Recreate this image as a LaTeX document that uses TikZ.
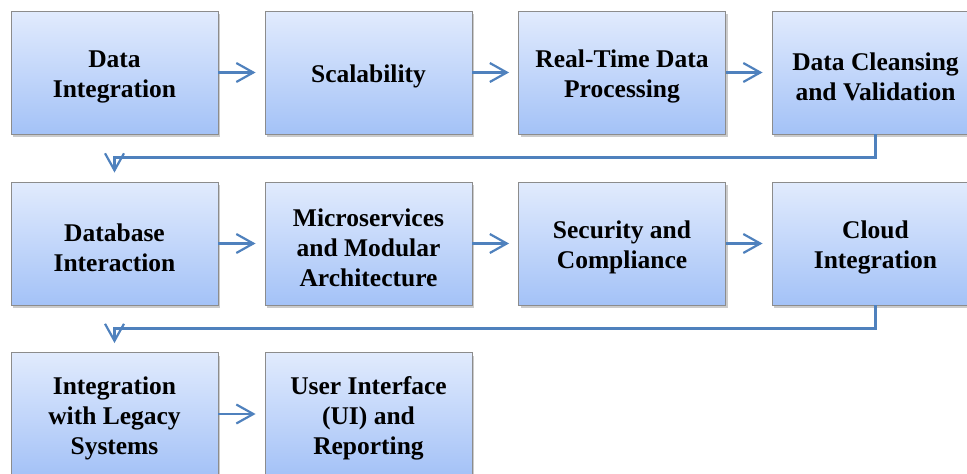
\documentclass[tikz,border=0pt]{standalone}
\usepackage{fontspec}
\setmainfont{Liberation Serif}
\usetikzlibrary{arrows.meta,shadows}
\definecolor{boxtop}{HTML}{E1EBFD}
\definecolor{boxbot}{HTML}{A4C2F7}
\definecolor{boxline}{HTML}{8C8C8C}
\definecolor{arrblue}{HTML}{4F81BD}
\tikzset{
  flowbox/.style={draw=boxline, line width=0.9pt, top color=boxtop, bottom color=boxbot,
    minimum width=207pt, minimum height=123pt, inner sep=0pt,
    drop shadow={shadow xshift=2pt, shadow yshift=-3pt, fill=black!45, opacity=0.45}},
  boxtext/.style={align=center, inner sep=0pt, yshift=-4pt,
    font=\bfseries\fontsize{25.5}{30}\selectfont},
  arr/.style={draw=arrblue, line width=2.3pt,
    -{Straight Barb[length=17pt, width=19pt, line width=2.2pt]}}
}
\begin{document}
\begin{tikzpicture}[x=1pt, y=-1pt]
\useasboundingbox (0,0) rectangle (967,474);
\clip (0,0) rectangle (967,474);
\node[flowbox, label={[boxtext]center:{Data\\Integration}}] (b1) at (114.5,72.5) {};
\node[flowbox, label={[boxtext]center:{Scalability}}] (b2) at (368.5,72.5) {};
\node[flowbox, label={[boxtext]center:{Real-Time Data\\Processing}}] (b3) at (622,72.5) {};
\node[flowbox, label={[boxtext]center:{Data Cleansing\\and Validation}}] (b4) at (875.5,72.5) {};
\node[flowbox, label={[boxtext]center:{Database\\Interaction}}] (b5) at (114.5,243.5) {};
\node[flowbox, label={[boxtext]center:{Microservices\\and Modular\\Architecture}}] (b6) at (368.5,243.5) {};
\node[flowbox, label={[boxtext]center:{Security and\\Compliance}}] (b7) at (622,243.5) {};
\node[flowbox, label={[boxtext]center:{Cloud\\Integration}}] (b8) at (875.5,243.5) {};
\node[flowbox, label={[boxtext]center:{Integration\\with Legacy\\Systems}}] (b9) at (114.5,414) {};
\node[flowbox, label={[boxtext]center:{User Interface\\(UI) and\\Reporting}}] (b10) at (368.5,414) {};
\draw[arr] (b1.east) -- ([xshift=-9pt]b2.west);
\draw[arr] (b2.east) -- ([xshift=-9pt]b3.west);
\draw[arr] (b3.east) -- ([xshift=-9pt]b4.west);
\draw[arr] (b4.south) -- ++(0,23) -| ([yshift=9pt]b5.north);
\draw[arr] (b5.east) -- ([xshift=-9pt]b6.west);
\draw[arr] (b6.east) -- ([xshift=-9pt]b7.west);
\draw[arr] (b7.east) -- ([xshift=-9pt]b8.west);
\draw[arr] (b8.south) -- ++(0,23) -| ([yshift=9pt]b9.north);
\draw[arr] (b9.east) -- ([xshift=-9pt]b10.west);
\end{tikzpicture}
\end{document}
